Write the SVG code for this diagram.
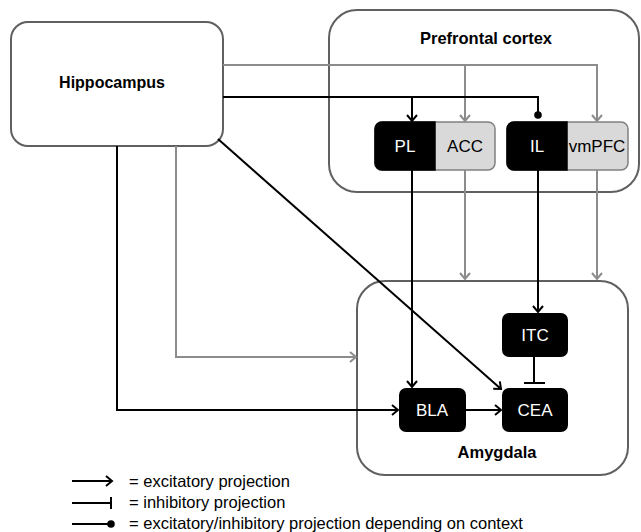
<svg xmlns="http://www.w3.org/2000/svg" width="641" height="532" viewBox="0 0 641 532">
<style>
.box{fill:#fff;stroke:#606060;stroke-width:2}
.title{font-family:"Liberation Sans",Arial,sans-serif;font-weight:bold;fill:#000;text-anchor:middle}
.lbl{font-family:"Liberation Sans",Arial,sans-serif;font-size:17px;text-anchor:middle}
.w{fill:#fff}
.k{fill:#000}
.blk{fill:none;stroke:#000;stroke-width:2}
.gry{fill:none;stroke:#8c8c8c;stroke-width:2}
.leg{font-family:"Liberation Sans",Arial,sans-serif;font-size:16.5px;fill:#000}
</style>
<defs>
<marker id="ab" markerUnits="userSpaceOnUse" markerWidth="12" markerHeight="12" viewBox="0 0 12 12" refX="9" refY="6" orient="auto">
<path d="M3,1 L9,6 L3,11" fill="none" stroke="#000" stroke-width="2"/>
</marker>
<marker id="ag" markerUnits="userSpaceOnUse" markerWidth="12" markerHeight="12" viewBox="0 0 12 12" refX="9" refY="6" orient="auto">
<path d="M3,1 L9,6 L3,11" fill="none" stroke="#8c8c8c" stroke-width="2"/>
</marker>
<marker id="dot" markerUnits="userSpaceOnUse" markerWidth="10" markerHeight="10" viewBox="0 0 10 10" refX="5" refY="5" orient="auto">
<circle cx="5" cy="5" r="3.8" fill="#000"/>
</marker>
</defs>

<g id="hippocampus">
<rect class="box" x="11" y="22" width="212" height="124" rx="17"/>
<text class="title" x="112" y="88" font-size="16">Hippocampus</text>
</g>

<g id="prefrontal-cortex">
<rect class="box" x="329" y="10" width="310" height="182" rx="28"/>
<text class="title" x="486" y="44" font-size="16.5">Prefrontal cortex</text>
</g>

<g id="amygdala">
<rect class="box" x="357" y="281" width="271" height="194" rx="28"/>
<text class="title" x="497" y="458" font-size="16.5">Amygdala</text>
</g>

<g id="pl-acc">
<rect x="375" y="122" width="120" height="48" rx="7" fill="#d9d9d9" stroke="#808080" stroke-width="1.5"/>
<path d="M382,122 H435 V170 H382 A7,7 0 0 1 375,163 V129 A7,7 0 0 1 382,122 Z" fill="#000" stroke="#000" stroke-width="1.5"/>
<text class="lbl w" x="405" y="152">PL</text>
<text class="lbl k" x="465" y="152">ACC</text>
</g>

<g id="il-vmpfc">
<rect x="507" y="122" width="121" height="48" rx="7" fill="#d9d9d9" stroke="#808080" stroke-width="1.5"/>
<path d="M514,122 H567 V170 H514 A7,7 0 0 1 507,163 V129 A7,7 0 0 1 514,122 Z" fill="#000" stroke="#000" stroke-width="1.5"/>
<text class="lbl w" x="537" y="152">IL</text>
<text class="lbl k" x="597" y="152" font-size="16.5">vmPFC</text>
</g>

<g id="itc">
<rect x="502" y="313" width="66" height="44" rx="7" fill="#000"/>
<text class="lbl w" x="535" y="341">ITC</text>
</g>

<g id="bla">
<rect x="399" y="388" width="67" height="44" rx="7" fill="#000"/>
<text class="lbl w" x="432" y="416">BLA</text>
</g>

<g id="cea">
<rect x="502" y="388" width="66" height="44" rx="7" fill="#000"/>
<text class="lbl w" x="535" y="416">CEA</text>
</g>

<g id="connectors">
<path class="gry" d="M223,65 H597 V121" marker-end="url(#ag)"/>
<path class="gry" d="M465,65 V121" marker-end="url(#ag)"/>
<path class="blk" d="M223,97 H538 V115" marker-end="url(#dot)"/>
<path class="blk" d="M412,97 V121" marker-end="url(#ab)"/>
<path class="gry" d="M465,170 V279" marker-end="url(#ag)"/>
<path class="gry" d="M597,170 V279" marker-end="url(#ag)"/>
<path class="blk" d="M412,170 V387" marker-end="url(#ab)"/>
<path class="blk" d="M538,170 V312" marker-end="url(#ab)"/>
<path class="blk" d="M534,357 V383 M524,383 H545"/>
<path class="blk" d="M218,139 L501,389" marker-end="url(#ab)"/>
<path class="blk" d="M117,146 V410 H398" marker-end="url(#ab)"/>
<path class="gry" d="M176,146 V357 H356" marker-end="url(#ag)"/>
<path class="blk" d="M466,410 H501" marker-end="url(#ab)"/>
</g>

<g id="legend">
<path class="blk" d="M72,481 H112" marker-end="url(#ab)"/>
<path class="blk" d="M72,503 H111 M111,497 V509"/>
<path class="blk" d="M72,524 H111" marker-end="url(#dot)"/>
<text class="leg" x="129" y="487">= excitatory projection</text>
<text class="leg" x="129" y="508">= inhibitory projection</text>
<text class="leg" x="129" y="529">= excitatory/inhibitory projection depending on context</text>
</g>
</svg>
